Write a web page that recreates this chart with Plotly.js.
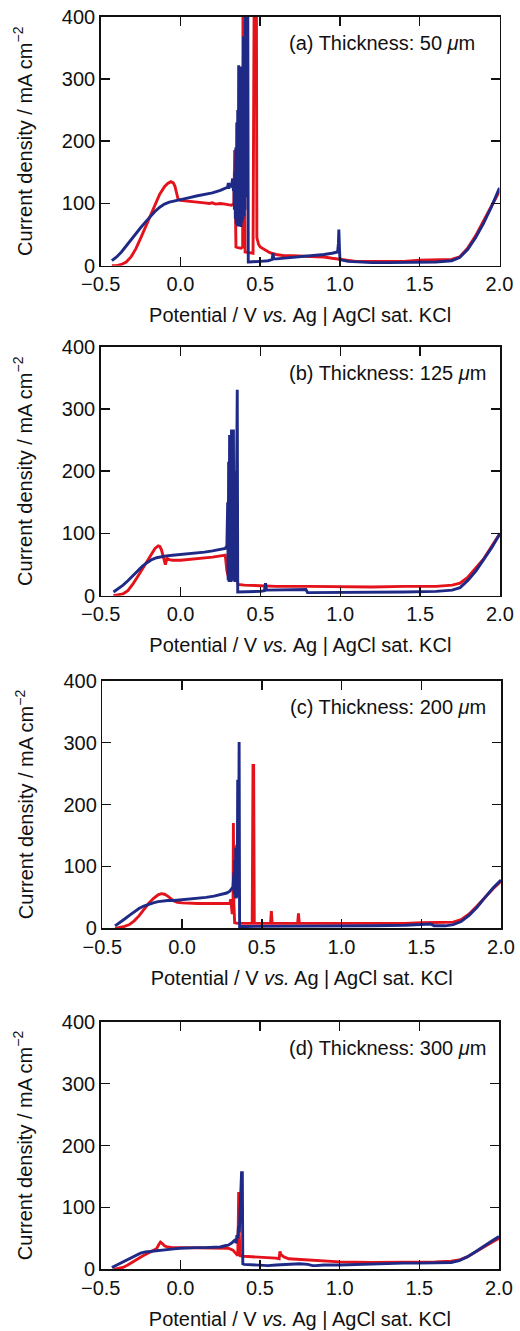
<!DOCTYPE html>
<html>
<head>
<meta charset="utf-8">
<script src="https://cdn.plot.ly/plotly-3.0.1.min.js"></script>
<style>
  html, body { margin: 0; padding: 0; background: #fff; }
  #chart { width: 520px; height: 1331px; }
</style>
</head>
<body>
<div id="chart"></div>
<script>
// ---------- data ----------
const panelLabels = ['(a) Thickness: 50 <i>μ</i>m', '(b) Thickness: 125 <i>μ</i>m',
                     '(c) Thickness: 200 <i>μ</i>m', '(d) Thickness: 300 <i>μ</i>m'];
const xTickVals = [-0.5, 0.0, 0.5, 1.0, 1.5, 2.0];
const xTickText = ['\u22120.5', '0.0', '0.5', '1.0', '1.5', '2.0'];
const yTickVals = [0, 100, 200, 300, 400];
const yTickText = ['0', '100', '200', '300', '400'];

// (a) 50 um
const aRedX = [-0.43,-0.40,-0.37,-0.34,-0.31,-0.28,-0.25,-0.22,-0.19,-0.16,-0.13,-0.10,-0.08,-0.06,-0.045,-0.035,-0.025,-0.015,0.0,0.05,0.10,0.15,0.18,0.20,0.22,0.25,0.28,0.30,0.32,0.335,0.34,0.343,0.348,0.36,0.38,0.39,0.392,0.40,0.402,0.405,0.43,0.455,0.462,0.476,0.479,0.49,0.50,0.53,0.56,0.60,0.65,0.70,0.80,0.90,0.95,1.0,1.05,1.1,1.2,1.3,1.4,1.5,1.6,1.7,1.75,1.8,1.85,1.9,1.95,2.0];
const aRedY = [0,0,2,6,14,27,44,62,80,98,115,127,132,135,133,128,118,107,105,104,103,101,100,101,99,100,99,98,97,100,186,120,30,29,28,30,440,440,60,22,21,20,440,440,45,34,30,25,21,18,16,16,15,14,12,10,8,7,7,7,7,9,9,10,14,28,48,72,97,120];
const aBlueX = [-0.43,-0.40,-0.37,-0.34,-0.31,-0.28,-0.25,-0.22,-0.19,-0.16,-0.13,-0.10,-0.07,-0.04,0.0,0.05,0.10,0.15,0.20,0.25,0.28,0.295,0.30,0.303,0.31,0.32,0.327,0.332,
  0.335,0.338,0.341,0.344,0.347,0.350,0.353,0.356,0.359,0.362,0.365,0.368,0.371,0.374,0.377,0.380,0.383,0.386,0.389,0.392,0.395,0.398,0.401,0.404,0.407,0.410,0.413,0.416,0.419,0.422,0.425,
  0.43,0.45,0.50,0.55,0.575,0.58,0.585,0.60,0.65,0.70,0.80,0.90,0.95,0.985,0.99,0.993,0.997,1.0,1.05,1.1,1.2,1.3,1.4,1.5,1.6,1.7,1.75,1.8,1.85,1.9,1.95,2.0];
const aBlueY = [8,14,22,32,42,52,61,70,79,87,94,99,102,104,106,109,112,114,117,121,124,126,133,124,130,128,140,120,
  140,90,150,75,190,68,230,65,250,63,322,65,245,70,300,62,320,70,280,75,368,80,350,90,420,110,430,140,440,440,6,
  6,6,7,8,10,20,11,11,12,14,15,18,20,22,35,58,25,10,7,6,5,5,5,5,6,8,13,26,45,68,95,125];

// (b) 125 um
const bRedX = [-0.42,-0.39,-0.36,-0.33,-0.30,-0.27,-0.24,-0.21,-0.18,-0.16,-0.14,-0.13,-0.12,-0.11,-0.10,-0.095,-0.09,-0.085,-0.07,-0.05,0.0,0.05,0.10,0.15,0.20,0.25,0.28,0.29,0.30,0.32,0.34,0.35,0.355,0.36,0.40,0.5,0.6,0.8,1.0,1.2,1.4,1.6,1.7,1.75,1.8,1.85,1.9,1.95,2.0];
const bRedY = [0,1,3,8,18,30,43,56,68,76,80,79,74,65,52,50,55,60,58,57,57,58,59,61,62,64,65,40,30,29,28,30,22,18,17,16,15,15,14,14,15,15,17,20,30,45,60,80,100];
const bBlueX = [-0.42,-0.39,-0.36,-0.33,-0.30,-0.27,-0.24,-0.21,-0.18,-0.15,-0.12,-0.09,-0.05,0.0,0.05,0.10,0.15,0.20,0.25,0.28,0.29,
  0.295,0.298,0.301,0.304,0.307,0.310,0.313,0.316,0.319,0.322,0.325,0.328,0.331,0.334,0.337,0.340,0.343,0.346,0.350,0.355,0.358,
  0.40,0.45,0.50,0.525,0.532,0.538,0.60,0.70,0.785,0.795,0.90,1.0,1.2,1.4,1.6,1.7,1.75,1.8,1.85,1.9,1.95,2.0];
const bBlueY = [6,11,17,24,32,40,47,53,58,61,63,64,65,66,67,68,70,72,74,76,80,
  150,25,215,22,258,25,225,22,267,25,267,28,267,24,200,22,160,25,120,331,6,
  6,6,7,8,20,9,9,10,10,5,5,5,6,6,7,9,13,25,40,58,78,100];

// (c) 200 um
const cRedX = [-0.42,-0.39,-0.36,-0.33,-0.30,-0.27,-0.24,-0.21,-0.18,-0.15,-0.13,-0.11,-0.09,-0.07,-0.05,-0.03,0.0,0.1,0.2,0.28,0.30,0.305,0.31,0.315,0.32,0.322,0.325,0.33,0.35,0.40,0.44,0.445,0.449,0.453,0.46,0.50,0.555,0.56,0.565,0.60,0.70,0.725,0.73,0.735,0.80,1.0,1.2,1.4,1.5,1.6,1.7,1.75,1.8,1.85,1.9,1.95,2.0];
const cRedY = [0,1,3,6,12,20,30,40,48,54,56,55,52,48,44,42,41,40,40,40,40,47,38,23,40,170,40,9,8,8,8,263,263,8,8,8,8,28,8,8,8,8,24,8,8,8,7,8,9,9,10,14,23,36,50,64,76];
const cBlueX = [-0.42,-0.39,-0.36,-0.33,-0.30,-0.27,-0.24,-0.21,-0.18,-0.15,-0.12,-0.09,-0.05,0.0,0.05,0.10,0.15,0.20,0.25,0.28,0.30,0.31,0.32,
  0.325,0.328,0.331,0.334,0.337,0.340,0.343,0.346,0.349,0.352,0.355,0.358,0.361,
  0.40,0.50,0.70,1.0,1.2,1.4,1.5,1.56,1.58,1.65,1.7,1.75,1.8,1.85,1.9,1.95,2.0];
const cBlueY = [4,9,15,21,27,32,36,39,41,43,44,45,45,46,47,48,50,52,55,57,60,63,67,
  90,55,110,50,130,48,135,50,240,50,130,301,3,
  3,3,3,3,4,5,6,7,4,4,6,11,21,34,50,65,78];

// (d) 300 um
const dRedX = [-0.42,-0.39,-0.36,-0.33,-0.30,-0.27,-0.24,-0.21,-0.18,-0.15,-0.135,-0.125,-0.115,-0.10,-0.08,-0.05,0.0,0.1,0.2,0.3,0.33,0.35,0.36,0.363,0.366,0.369,0.372,0.375,0.40,0.5,0.6,0.62,0.625,0.63,0.65,0.68,0.75,0.8,0.9,1.0,1.2,1.4,1.5,1.6,1.7,1.75,1.8,1.85,1.9,1.95,2.0];
const dRedY = [0,1,3,7,12,17,21,25,29,33,40,44,42,38,36,35,35,35,34,34,31,24,22,60,125,60,24,22,21,20,18,17,29,24,20,17,16,15,14,12,11,11,12,12,13,15,20,27,35,43,50];
const dBlueX = [-0.43,-0.40,-0.37,-0.34,-0.31,-0.28,-0.25,-0.22,-0.19,-0.16,-0.12,-0.08,-0.04,0.0,0.05,0.10,0.15,0.20,0.25,0.28,0.30,0.32,0.335,0.345,0.35,0.355,0.36,0.365,0.37,0.375,0.38,0.384,0.389,0.392,0.40,0.45,0.5,0.55,0.6,0.65,0.7,0.75,0.8,0.83,0.85,0.9,1.0,1.1,1.2,1.3,1.4,1.5,1.6,1.7,1.75,1.8,1.85,1.9,1.95,2.0];
const dBlueY = [3,7,11,15,19,23,26,28,29,30,31,32,33,34,35,35,35,35,36,38,39,42,45,48,42,55,50,70,60,90,110,156,156,9,8,7,6,6,7,8,9,9,8,6,6,7,7,8,9,10,10,10,10,11,14,20,28,37,45,53];

// ---------- styling / layout ----------
const RED = '#e3121b';
const BLUE = '#1f2a87';
const FONT = 'Liberation Sans, Arial, Helvetica, sans-serif';
const FS = 20;
const W = 520, H = 1331;

// pixel boxes of the four plot areas [left, right, top, bottom]
const boxes = [
  [100.7, 499.5, 16.7, 265.7],
  [100.7, 500.0, 346.7, 595.7],
  [102.3, 501.0, 680.7, 928.3],
  [100.7, 499.0, 1021.7, 1269.3]
];

const series = [
  [aRedX, aRedY, aBlueX, aBlueY],
  [bRedX, bRedY, bBlueX, bBlueY],
  [cRedX, cRedY, cBlueX, cBlueY],
  [dRedX, dRedY, dBlueX, dBlueY]
];

const traces = [];
const layout = {
  width: W, height: H,
  margin: {l: 0, r: 0, t: 0, b: 0, pad: 0},
  paper_bgcolor: '#fff', plot_bgcolor: '#fff',
  showlegend: false,
  font: {family: FONT, size: FS, color: '#111'},
  annotations: []
};

series.forEach((s, i) => {
  const n = i + 1;
  const xa = n === 1 ? 'x' : 'x' + n;
  const ya = n === 1 ? 'y' : 'y' + n;
  traces.push({x: s[0], y: s[1], xaxis: xa, yaxis: ya, type: 'scatter', mode: 'lines',
               line: {color: RED, width: 2.9}, hoverinfo: 'skip'});
  traces.push({x: s[2], y: s[3], xaxis: xa, yaxis: ya, type: 'scatter', mode: 'lines',
               line: {color: BLUE, width: 2.9}, hoverinfo: 'skip'});
  const b = boxes[i];
  const common = {
    showline: true, linecolor: '#111', linewidth: 1.5, mirror: 'ticks',
    ticks: 'inside', ticklen: 9, tickwidth: 1.5, tickcolor: '#111',
    showgrid: false, zeroline: false, fixedrange: true,
    tickfont: {family: FONT, size: FS, color: '#111'}
  };
  layout['xaxis' + (n === 1 ? '' : n)] = Object.assign({}, common, {
    anchor: ya,
    domain: [b[0] / W, b[1] / W],
    range: [-0.5, 2.0],
    tickmode: 'array', tickvals: xTickVals, ticktext: xTickText,
    title: {text: 'Potential / V <i>vs.</i> Ag | AgCl sat. KCl',
            font: {family: FONT, size: FS, color: '#111'}, standoff: 14}
  });
  layout['yaxis' + (n === 1 ? '' : n)] = Object.assign({}, common, {
    anchor: xa,
    domain: [1 - b[3] / H, 1 - b[2] / H],
    range: [0, 400],
    tickmode: 'array', tickvals: yTickVals, ticktext: yTickText,
    title: {text: 'Current density / mA cm<sup>\u22122</sup>',
            font: {family: FONT, size: FS, color: '#111'}, standoff: 24}
  });
  layout.annotations.push({
    text: panelLabels[i], xref: xa + ' domain', yref: ya + ' domain',
    x: 0.467, y: 0.893, xanchor: 'left', yanchor: 'middle', showarrow: false,
    font: {family: FONT, size: FS, color: '#111'}
  });
});

Plotly.newPlot('chart', traces, layout, {staticPlot: true, displayModeBar: false});
</script>
</body>
</html>
